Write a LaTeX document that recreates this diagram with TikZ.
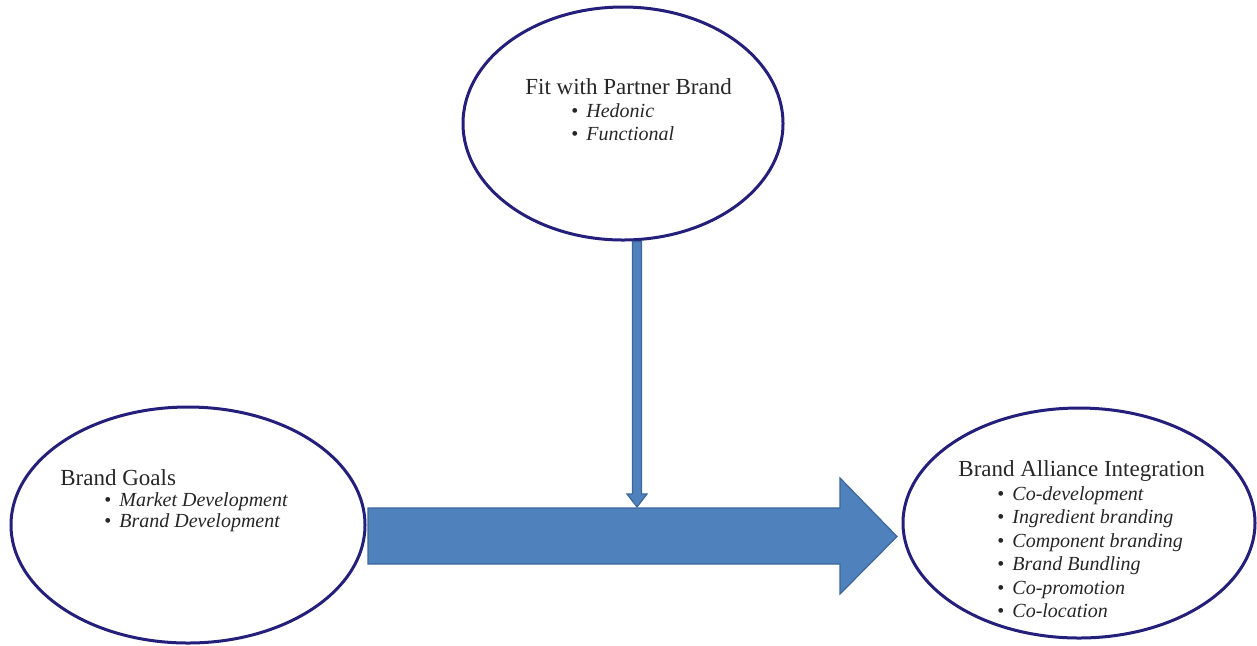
\documentclass[tikz,border=0pt]{standalone}
\usepackage{fontspec}
\setmainfont{Liberation Serif}
\usetikzlibrary{shapes.geometric}

\definecolor{ringblue}{HTML}{231F7A}
\definecolor{arrowfill}{HTML}{4F81BD}
\definecolor{arrowedge}{HTML}{3B679C}

\tikzset{
	ring/.style={draw=ringblue, line width=1.5pt, ellipse, inner sep=0pt},
	heading/.style={anchor=base west, inner sep=0pt, text=black!85,
		font=\fontsize{11.5pt}{13pt}\selectfont},
	entry/.style={anchor=base west, inner sep=0pt, text=black!85,
		font=\fontsize{10pt}{12pt}\selectfont\itshape,
		execute at begin node={\textup{\textbullet}\hspace{4pt}}},
	bluearrow/.style={fill=arrowfill, draw=arrowedge, line width=0.6pt, line join=miter}
}

\begin{document}
\begin{tikzpicture}[x=0.5pt, y=-0.5pt]
	\useasboundingbox (0,0) rectangle (1257,645);

	% ellipses
	\node[ring, minimum width=160pt, minimum height=116.5pt] (fitE) at (623,123.5) {};
	\node[ring, minimum width=177pt, minimum height=118pt] (goalsE) at (188,525) {};
	\node[ring, minimum width=176pt, minimum height=115pt] (allianceE) at (1079,523) {};

	% fit with partner
	\node[heading] (fitH) at (525,94) {Fit with Partner Brand};
	\node[entry] (fit1) at (571,117) {Hedonic};
	\node[entry] (fit2) at (571,140) {Functional};

	% goals
	\node[heading] (goalsH) at (60,485) {Brand Goals};
	\node[entry] (goals1) at (104,506) {Market Development};
	\node[entry] (goals2) at (104,527) {Brand Development};

	% alliance
	\node[heading] (allianceH) at (958,476) {Brand Alliance Integration};
	\node[entry] (all1) at (997,500) {Co-development};
	\node[entry] (all2) at (997,523.5) {Ingredient branding};
	\node[entry] (all3) at (997,547) {Component branding};
	\node[entry] (all4) at (997,570.5) {Brand Bundling};
	\node[entry] (all5) at (997,594) {Co-promotion};
	\node[entry] (all6) at (997,617.5) {Co-location};

	% big arrow
	\coordinate (tip) at (897,536.5);
	\draw[bluearrow] (368,508) -- (840,508) -- (840,478) -- (tip)
		-- (840,594) -- (840,564) -- (368,564) -- cycle;

	% thin arrow
	\coordinate (drop) at (637,507);
	\draw[bluearrow] (632.5,0 |- fitE.south) -- (632.5,494) -- (627,494) -- (drop)
		-- (647,494) -- (641.5,494) -- (641.5,0 |- fitE.south) -- cycle;
\end{tikzpicture}
\end{document}
